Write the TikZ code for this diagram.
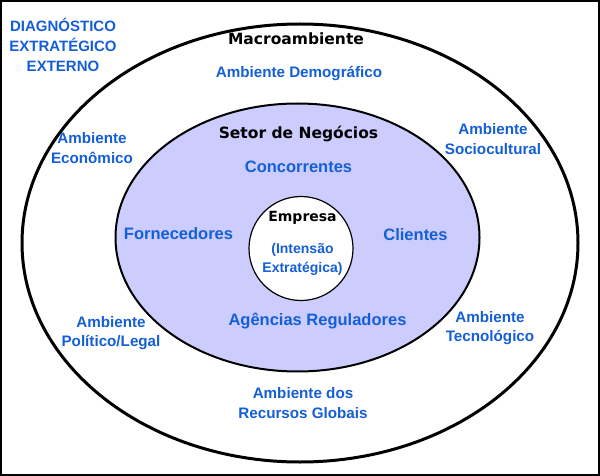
\documentclass[tikz,border=0pt]{standalone}
\usepackage{fontspec}
\setmainfont{DejaVu Sans}
\newfontfamily\envfont{Liberation Sans}
\usepackage{tikz}
\usetikzlibrary{shapes.geometric, positioning}
\definecolor{envblue}{RGB}{20,95,215}
\definecolor{sectorfill}{RGB}{204,204,255}

\begin{document}
\begin{tikzpicture}[x=1pt, y=-1pt,
    ring/.style={draw, ellipse, inner sep=0pt},
    heading/.style={font=\bfseries\fontsize{15.5}{19}\selectfont, align=center},
    env/.style={text=envblue, font=\envfont\bfseries\fontsize{15.2}{19.5}\selectfont, align=center},
    actor/.style={text=envblue, font=\envfont\bfseries\fontsize{16.5}{20}\selectfont, align=center}
]

\useasboundingbox (0,0) rectangle (600,476);
\draw[line width=2pt] (1,1) rectangle (599,475);

\node[ring, line width=3pt, fill=white, minimum width=556pt, minimum height=438pt] (macro) at (300,243) {};
\node[ring, line width=2pt, fill=sectorfill, minimum width=364pt, minimum height=268pt] (setor) at (297.5,237.5) {};
\node[ring, line width=1.2pt, fill=white, minimum width=104pt, minimum height=104pt] (empresa) at (301,248.5) {};

\node[env, font=\envfont\bfseries\fontsize{15}{20}\selectfont] (diag) at (63,45) {DIAGNÓSTICO\\EXTRATÉGICO\\EXTERNO};
\node[heading] (macrot) at (296,39) {Macroambiente};
\node[env] (demo) at (299,74) {Ambiente Demográfico};
\node[env] (econ) at (92,148) {Ambiente\\Econômico};
\node[env] (socio) at (493,139) {Ambiente\\Sociocultural};
\node[env] (polit) at (111,333) {Ambiente\\Político/Legal};
\node[env] (tecno) at (490,328) {Ambiente\\Tecnológico};
\node[env] (recur) at (303,403) {Ambiente dos\\Recursos Globais};

\node[heading] (setort) at (298.5,134) {Setor de Negócios};
\node[actor] (conc) at (298.5,167) {Concorrentes};
\node[actor] (forn) at (178.5,234) {Fornecedores};
\node[actor] (clie) at (415.5,235) {Clientes};
\node[actor] (agen) at (317.5,321) {Agências Reguladores};

\node[heading, font=\bfseries\fontsize{14}{18}\selectfont] (empt) at (302.5,218) {Empresa};
\node[env, font=\envfont\bfseries\fontsize{14}{19}\selectfont] (inten) at (302.5,259) {(Intensão\\Extratégica)};

\end{tikzpicture}
\end{document}
